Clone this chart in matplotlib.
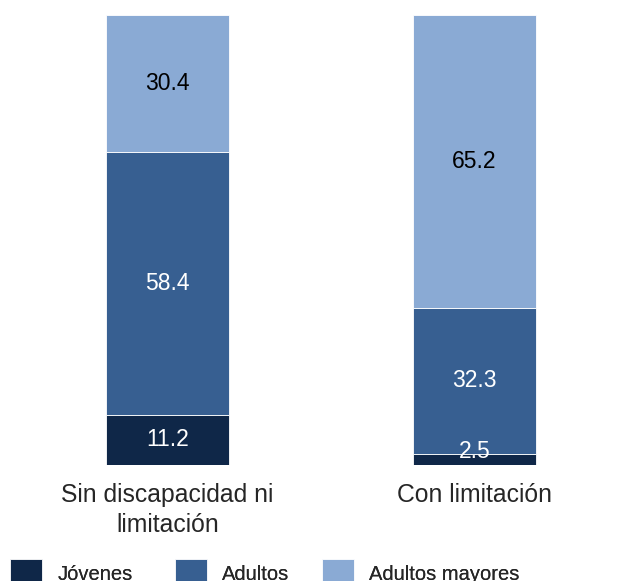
import matplotlib.pyplot as plt
import numpy as np

plt.rcParams["font.family"] = ["Liberation Sans", "DejaVu Sans"]

categories = ["Sin discapacidad ni\nlimitación", "Con limitación"]
series_names = ["Jóvenes", "Adultos", "Adultos mayores"]
jovenes = [11.2, 2.5]
adultos = [58.4, 32.3]
mayores = [30.4, 65.2]

colors = ["#0f2748", "#375f91", "#8aaad4"]
text_colors = ["white", "white", "black"]

fig = plt.figure(figsize=(6.17, 5.81), dpi=100)
ax = fig.add_axes([0, 0.1997, 1, 0.775])

x = np.arange(len(categories))
bottom = np.zeros(len(categories))
handles = []
for vals, name, col, tcol in zip([jovenes, adultos, mayores], series_names, colors, text_colors):
    vals = np.array(vals)
    bars = ax.bar(x, vals, width=0.4, bottom=bottom, color=col, edgecolor="white",
                  linewidth=0.6, label=name)
    handles.append(bars)
    for xi, v, b in zip(x, vals, bottom):
        yc = b + v / 2
        if v < 5:
            yc += 1.8
        ax.text(xi, yc, f"{v:.1f}", ha="center", va="center", fontsize=16.5, color=tcol)
    bottom += vals

ax.set_xlim(-167.5 / 307, (617 - 167.5) / 307)
ax.set_ylim(0, 100)
ax.set_yticks([])
ax.set_xticks(x)
ax.set_xticklabels(categories, fontsize=17.8, color="#262626", linespacing=1.3)
ax.tick_params(axis="x", length=0, pad=13)
for s in ax.spines.values():
    s.set_visible(False)

# legend entries placed one by one to follow the original spacing
legend_x = [10 / 617, 175 / 617, 322 / 617]
for h, name, lx in zip(handles, series_names, legend_x):
    leg = fig.legend(handles=[h], labels=[name], loc="center left",
                     bbox_to_anchor=(lx, 8 / 581), frameon=False, fontsize=14.5,
                     handlelength=1.6, handleheight=1.75, handletextpad=0.75,
                     borderpad=0, borderaxespad=0, labelcolor="#262626")
    fig.add_artist(leg)

fig.savefig("out.png", dpi=100)
